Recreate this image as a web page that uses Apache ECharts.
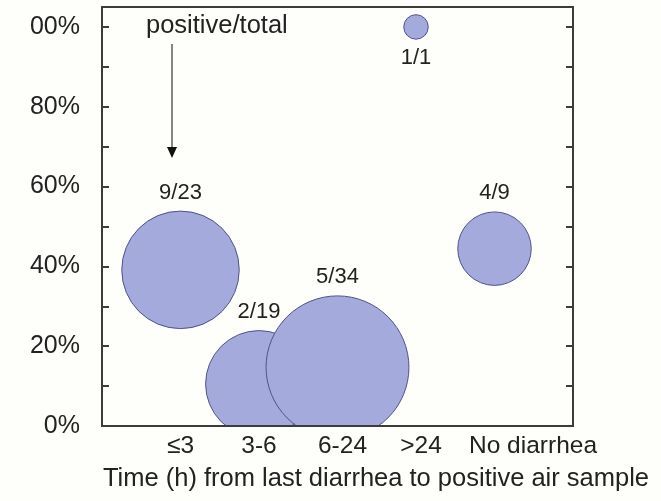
<!DOCTYPE html>
<html>
<head>
<meta charset="utf-8">
<script src="https://cdn.jsdelivr.net/npm/echarts@6/dist/echarts.min.js"></script>
<style>
html,body{margin:0;padding:0;background:#fefefb;}
#c{width:661px;height:501px;}
</style>
</head>
<body>
<div id="c"></div>
<script>
var categories = ['≤3', '3-6', '6-24', '>24', 'No diarrhea'];
var positive = [9, 2, 5, 1, 4];
var total = [23, 19, 34, 1, 9];
var yTickLabels = ['0%', '20%', '40%', '60%', '80%', '00%'];
var axisTitle = 'Time (h) from last diarrhea to positive air sample';
var annotation = 'positive/total';

var FONT = 'Liberation Sans, Arial, sans-serif';
var AX = '#3c3c3c';

var data = categories.map(function (c, i) {
  return {
    value: [i + 1, positive[i] / total[i] * 100, total[i]],
    label: {
      formatter: positive[i] + '/' + total[i],
      position: total[i] === 1 ? 'bottom' : 'top'
    }
  };
});

var chart = echarts.init(document.getElementById('c'), null, {renderer: 'canvas'});
chart.setOption({
  backgroundColor: '#fefefb',
  animation: false,
  grid: {left: 102, right: 88, top: 7, bottom: 75, show: true, borderColor: AX, borderWidth: 2, backgroundColor: 'transparent'},
  xAxis: {
    type: 'value', min: 0, max: 6, z: 10,
    splitLine: {show: false},
    axisLine: {show: true, onZero: false, lineStyle: {color: AX, width: 2}},
    axisTick: {show: false},
    name: axisTitle,
    nameLocation: 'middle',
    nameGap: 40,
    nameTextStyle: {fontFamily: FONT, fontSize: 25.5, color: '#222', padding: [0, 0, 0, 77]},
    axisLabel: {
      customValues: [1, 2, 3, 4, 5],
      margin: 8,
      fontFamily: FONT, fontSize: 24.5, color: '#222',
      formatter: function (v) {
        var c = categories[Math.round(v) - 1];
        if (Math.round(v) === 5) return '{nd|' + c + '}';
        if (Math.round(v) >= 3) return '{sh|' + c + '}';
        return c;
      },
      rich: {
        nd: {fontFamily: FONT, fontSize: 24.5, color: '#222', padding: [0, 0, 0, 77]},
        sh: {fontFamily: FONT, fontSize: 24.5, color: '#222', padding: [0, 0, 0, 10]}
      }
    }
  },
  yAxis: [{
    type: 'value', min: 0, max: 105, interval: 10, z: 10,
    splitLine: {show: false},
    axisLine: {show: true, lineStyle: {color: AX, width: 2}},
    axisTick: {show: true, inside: true, length: 7, lineStyle: {color: AX, width: 2}},
    axisLabel: {
      margin: 22, fontFamily: FONT, fontSize: 25, color: '#222',
      showMaxLabel: false,
      formatter: function (v) {
        if (v % 20 !== 0 || v > 100) return '';
        return yTickLabels[v / 20];
      }
    }
  }, {
    type: 'value', min: 0, max: 105, interval: 10, position: 'right', z: 10,
    splitLine: {show: false},
    axisLine: {show: true, lineStyle: {color: AX, width: 2}},
    axisTick: {show: true, inside: true, length: 7, lineStyle: {color: AX, width: 2}},
    axisLabel: {show: false}
  }],
  graphic: [
    {type: 'rect', z: 5, shape: {x: 100, y: 427, width: 476, height: 14}, style: {fill: '#fefefb'}},
    {type: 'text', z: 20, left: 146, top: 13, style: {text: annotation, font: '25.5px ' + FONT, fill: '#222'}},
    {type: 'line', z: 20, shape: {x1: 172, y1: 44, x2: 172, y2: 150}, style: {stroke: '#333', lineWidth: 1.2}},
    {type: 'polygon', z: 20, shape: {points: [[167, 147], [177, 147], [172, 158]]}, style: {fill: '#111'}}
  ],
  series: [{
    type: 'scatter',
    data: data,
    symbolSize: function (v) { return 24.5 * Math.sqrt(v[2]); },
    itemStyle: {color: '#a4aadc', borderColor: '#4f5488', borderWidth: 1, opacity: 1},
    label: {show: true, distance: 7, fontFamily: FONT, fontSize: 22, color: '#222'},
    emphasis: {disabled: true}
  }]
});
</script>
</body>
</html>
